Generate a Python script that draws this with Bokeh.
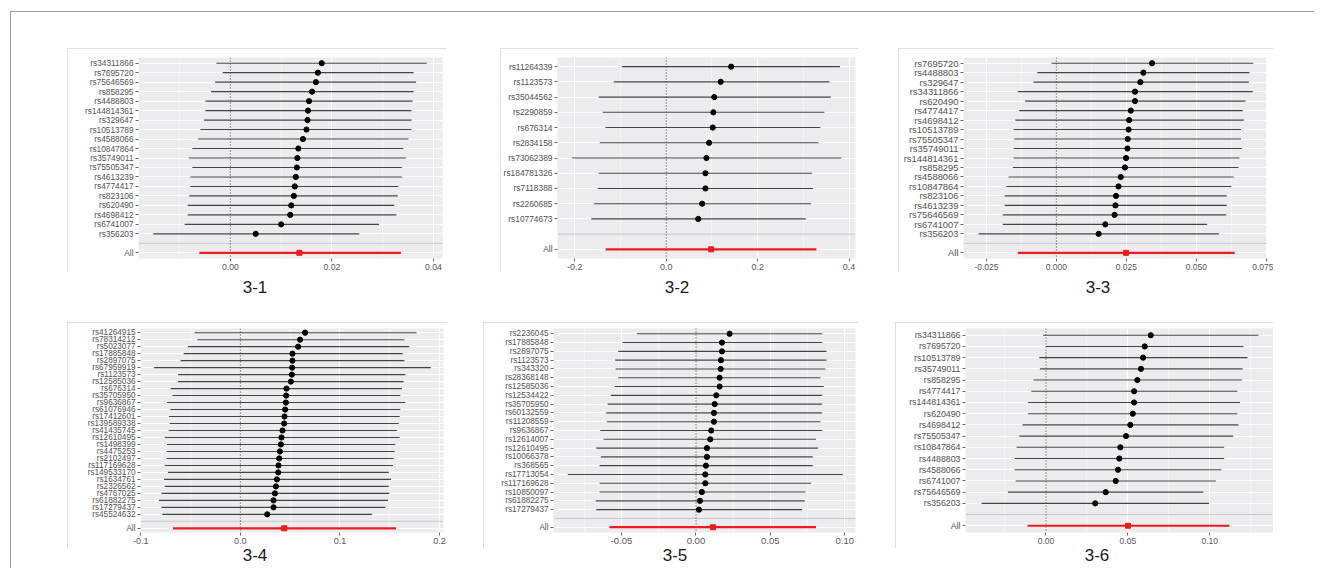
from bokeh.plotting import figure
from bokeh.models import Range1d, FixedTicker, Span, ColumnDataSource, Spacer, Div
from bokeh.layouts import row, column
from bokeh.embed import file_html
from bokeh.resources import INLINE

# ---------------- Panel 3-1 ----------------
snps_1 = ["rs34311866", "rs7695720", "rs75646569", "rs858295", "rs4488803", "rs144814361",
          "rs329647", "rs10513789", "rs4588066", "rs10847864", "rs35749011", "rs75505347",
          "rs4613239", "rs4774417", "rs823106", "rs620490", "rs4698412", "rs6741007", "rs356203"]
beta_1 = [0.0180, 0.01725, 0.01685, 0.0161, 0.0155, 0.0153, 0.0152, 0.0150, 0.0143, 0.0134,
          0.0132, 0.0131, 0.0129, 0.0127, 0.0125, 0.0120, 0.0118, 0.0100, 0.0050]
lower_1 = [-0.00275, -0.0015, -0.0030, -0.0038, -0.0049, -0.0049, -0.0052, -0.0059, -0.0064,
           -0.0075, -0.0082, -0.0075, -0.0079, -0.0079, -0.0081, -0.0084, -0.0084, -0.0090, -0.0152]
upper_1 = [0.0387, 0.0361, 0.0366, 0.0361, 0.0359, 0.0357, 0.0357, 0.0357, 0.0351, 0.0341,
           0.0346, 0.0338, 0.0338, 0.0331, 0.0330, 0.0323, 0.0327, 0.0293, 0.0254]
all_1 = [0.0136, -0.0061, 0.0336]
xticks_1 = [0.0, 0.02, 0.04]
xlabels_1 = ["0.00", "0.02", "0.04"]

# ---------------- Panel 3-2 ----------------
snps_2 = ["rs11264339", "rs1123573", "rs35044562", "rs2290859", "rs676314", "rs2834158",
          "rs73062389", "rs184781326", "rs7118388", "rs2260685", "rs10774673"]
beta_2 = [0.142, 0.119, 0.105, 0.103, 0.1016, 0.0937, 0.0879, 0.0857, 0.0857, 0.0785, 0.0699]
lower_2 = [-0.0965, -0.115, -0.148, -0.139, -0.133, -0.1455, -0.206, -0.148, -0.150, -0.1585, -0.164]
upper_2 = [0.380, 0.357, 0.360, 0.346, 0.337, 0.333, 0.383, 0.319, 0.321, 0.317, 0.305]
all_2 = [0.098, -0.1325, 0.3285]
xticks_2 = [-0.2, 0.0, 0.2, 0.4]
xlabels_2 = ["-0.2", "0.0", "0.2", "0.4"]

# ---------------- Panel 3-3 ----------------
snps_3 = ["rs7695720", "rs4488803", "rs329647", "rs34311866", "rs620490", "rs4774417",
          "rs4698412", "rs10513789", "rs75505347", "rs35749011", "rs144814361", "rs858295",
          "rs4588066", "rs10847864", "rs823106", "rs4613239", "rs75646569", "rs6741007", "rs356203"]
beta_3 = [0.0342, 0.0311, 0.0300, 0.0281, 0.0281, 0.0266, 0.0260, 0.0258, 0.0255, 0.0254,
          0.0249, 0.0245, 0.0230, 0.0222, 0.0213, 0.0211, 0.0208, 0.0175, 0.0151]
lower_3 = [-0.0017, -0.0068, -0.0082, -0.0138, -0.0112, -0.0133, -0.0147, -0.0153, -0.0151,
           -0.0153, -0.0153, -0.0156, -0.0171, -0.0179, -0.0185, -0.0185, -0.0192, -0.0192, -0.0278]
upper_3 = [0.0704, 0.0690, 0.0688, 0.0702, 0.0676, 0.0666, 0.0670, 0.0660, 0.0660, 0.0663,
           0.0654, 0.0651, 0.0634, 0.0625, 0.0609, 0.0609, 0.0607, 0.0539, 0.0581]
all_3 = [0.0249, -0.0138, 0.0637]
xticks_3 = [-0.025, 0.0, 0.025, 0.05, 0.075]
xlabels_3 = ["-0.025", "0.000", "0.025", "0.050", "0.075"]

# ---------------- Panel 3-4 ----------------
snps_4 = ["rs41264915", "rs78314212", "rs5023077", "rs17885848", "rs2897075", "rs67959919",
          "rs1123573", "rs12585036", "rs676314", "rs35705950", "rs9636867", "rs61076946",
          "rs17412601", "rs139589338", "rs41435745", "rs12610495", "rs1498399", "rs4475253",
          "rs2102497", "rs117169628", "rs149533170", "rs1634761", "rs2326562", "rs4767025",
          "rs61882275", "rs17279437", "rs45524632"]
beta_4 = [0.065, 0.060, 0.058, 0.0523, 0.0523, 0.052, 0.0517, 0.0507, 0.0463, 0.046, 0.0457,
          0.045, 0.0443, 0.044, 0.0423, 0.0413, 0.0407, 0.0397, 0.039, 0.0383, 0.038, 0.0367,
          0.0357, 0.0347, 0.0333, 0.0333, 0.027]
lower_4 = [-0.046, -0.0433, -0.0527, -0.057, -0.060, -0.0867, -0.0627, -0.0627, -0.070, -0.0683,
           -0.0737, -0.0703, -0.0717, -0.071, -0.072, -0.076, -0.0737, -0.0743, -0.0743, -0.076,
           -0.0727, -0.0767, -0.076, -0.0793, -0.0817, -0.0793, -0.0783]
upper_4 = [0.177, 0.1647, 0.1697, 0.163, 0.1647, 0.1913, 0.1657, 0.164, 0.1623, 0.1607, 0.1657,
           0.1607, 0.160, 0.159, 0.1573, 0.160, 0.1557, 0.155, 0.154, 0.1533, 0.149, 0.1513,
           0.149, 0.1497, 0.1483, 0.1457, 0.1323]
all_4 = [0.044, -0.0677, 0.1563]
xticks_4 = [-0.1, 0.0, 0.1, 0.2]
xlabels_4 = ["-0.1", "0.0", "0.1", "0.2"]

# ---------------- Panel 3-5 ----------------
snps_5 = ["rs2236045", "rs17885848", "rs2897075", "rs1123573", "rs343320", "rs28368148",
          "rs12585036", "rs12534422", "rs35705950", "rs60132559", "rs11208559", "rs9636867",
          "rs12614007", "rs12610495", "rs10066378", "rs368565", "rs17713054", "rs117169628",
          "rs10850097", "rs61882275", "rs17279437"]
beta_5 = [0.0226, 0.0175, 0.0175, 0.0168, 0.0166, 0.0159, 0.0159, 0.0137, 0.0126, 0.0121,
          0.0121, 0.0103, 0.0096, 0.0074, 0.0074, 0.0067, 0.0063, 0.0063, 0.0040, 0.0027, 0.0020]
lower_5 = [-0.0397, -0.0493, -0.0522, -0.0543, -0.054, -0.0522, -0.0547, -0.0572, -0.0594,
           -0.0603, -0.0599, -0.0643, -0.0621, -0.067, -0.0639, -0.0648, -0.0861, -0.0648,
           -0.0648, -0.0673, -0.067]
upper_5 = [0.0848, 0.0848, 0.0877, 0.0877, 0.087, 0.0836, 0.0859, 0.0848, 0.0848, 0.0848,
           0.0836, 0.0848, 0.0807, 0.0821, 0.0785, 0.0785, 0.0987, 0.0774, 0.0735, 0.0731, 0.0713]
all_5 = [0.0114, -0.0581, 0.0807]
xticks_5 = [-0.05, 0.0, 0.05, 0.10]
xlabels_5 = ["-0.05", "0.00", "0.05", "0.10"]

# ---------------- Panel 3-6 ----------------
snps_6 = ["rs34311866", "rs7695720", "rs10513789", "rs35749011", "rs858295", "rs4774417",
          "rs144814361", "rs620490", "rs4698412", "rs75505347", "rs10847864", "rs4488803",
          "rs4588066", "rs6741007", "rs75646569", "rs356203"]
beta_6 = [0.064, 0.0603, 0.0593, 0.058, 0.0558, 0.0538, 0.0538, 0.053, 0.0515, 0.0489,
          0.0454, 0.0448, 0.044, 0.0426, 0.0365, 0.0301]
lower_6 = [-0.0018, 0.0, -0.0041, -0.0037, -0.0077, -0.009, -0.011, -0.011, -0.0143, -0.0163,
           -0.0179, -0.0191, -0.0191, -0.0185, -0.0232, -0.0393]
upper_6 = [0.1297, 0.1206, 0.123, 0.120, 0.1196, 0.1169, 0.1185, 0.1169, 0.1175, 0.1143,
           0.1088, 0.1088, 0.1071, 0.1037, 0.0961, 0.0996]
all_6 = [0.0501, -0.0112, 0.112]
xticks_6 = [0.0, 0.05, 0.10]
xlabels_6 = ["0.00", "0.05", "0.10"]

captions = ["3-1", "3-2", "3-3", "3-4", "3-5", "3-6"]

FONT = "Liberation Sans"
FRAME = "#9b9b9b"


def make_panel(snps, beta, lower, upper, overall, xticks, xlabels, xminor, xlim,
               w, h, borders, ysize, xsize):
    n = len(snps)
    ys = [n + 1 - i for i in range(n)]
    p = figure(width=w, height=h, x_range=Range1d(*xlim), y_range=Range1d(-0.6, n + 1.6),
               output_backend="svg", toolbar_location=None,
               min_border_left=borders[0], min_border_right=borders[1],
               min_border_top=borders[2], min_border_bottom=borders[3])
    p.background_fill_color = "#ECECEE"
    p.border_fill_color = "white"
    p.outline_line_color = None
    p.styles = {"outline": "1px solid #d4d4d4", "outline-offset": "-1px"}

    # x axis
    p.xaxis.ticker = FixedTicker(ticks=xticks, minor_ticks=xminor)
    p.xaxis.major_label_overrides = {t: l for t, l in zip(xticks, xlabels)}
    p.xaxis.axis_line_color = None
    p.xaxis.major_tick_out = 3
    p.xaxis.major_tick_in = 0
    p.xaxis.major_tick_line_color = "#666666"
    p.xaxis.minor_tick_line_color = None
    p.xaxis.major_label_standoff = 1
    p.xaxis.major_label_text_font = FONT
    p.xaxis.major_label_text_font_size = xsize
    p.xaxis.major_label_text_color = "#555555"

    # y axis
    yt = [0] + ys
    p.yaxis.ticker = FixedTicker(ticks=yt)
    ov = {0: "All"}
    for s, y in zip(snps, ys):
        ov[y] = s
    p.yaxis.major_label_overrides = ov
    p.yaxis.axis_line_color = None
    p.yaxis.major_tick_out = 3
    p.yaxis.major_tick_in = 0
    p.yaxis.major_tick_line_color = "#666666"
    p.yaxis.minor_tick_line_color = None
    p.yaxis.major_label_standoff = 2
    p.yaxis.major_label_text_font = FONT
    p.yaxis.major_label_text_font_size = ysize
    p.yaxis.major_label_text_color = "#505050"

    # grids
    p.xgrid.grid_line_color = "white"
    p.xgrid.grid_line_width = 1
    p.xgrid.minor_grid_line_color = "white"
    p.xgrid.minor_grid_line_width = 0.5
    p.ygrid.grid_line_color = "white"
    p.ygrid.grid_line_width = 1

    p.add_layout(Span(location=1, dimension="width", line_color="#c6c6c6",
                      line_width=1, level="underlay"))
    p.add_layout(Span(location=0, dimension="height", line_color="#222222",
                      line_width=1, line_dash="1 2", level="underlay"))

    src = ColumnDataSource(dict(y=ys, b=beta, lo=lower, hi=upper))
    p.segment(x0="lo", y0="y", x1="hi", y1="y", line_color="#444444", line_width=1.1, source=src)
    p.scatter(x="b", y="y", size=5.2, color="black", source=src)

    asrc = ColumnDataSource(dict(y=[0], b=[overall[0]], lo=[overall[1]], hi=[overall[2]]))
    p.segment(x0="lo", y0="y", x1="hi", y1="y", line_color="#ee1c1c", line_width=2.2, source=asrc)
    p.scatter(x="b", y="y", size=5, marker="square", color="#ee1c1c", source=asrc)
    return p


p1 = make_panel(snps_1, beta_1, lower_1, upper_1, all_1, xticks_1, xlabels_1,
                [-0.01, 0.01, 0.03], (-0.0181, 0.0418), 380, 224, (71, 5, 7, 14), "8.3px", "8.7px")
p2 = make_panel(snps_2, beta_2, lower_2, upper_2, all_2, xticks_2, xlabels_2,
                [-0.1, 0.1, 0.3], (-0.238, 0.414), 358, 224, (53, 3, 9, 14), "8.4px", "9px")
p3 = make_panel(snps_3, beta_3, lower_3, upper_3, all_3, xticks_3, xlabels_3,
                [-0.0125, 0.0125, 0.0375, 0.0625], (-0.0332, 0.0751), 375, 224, (65, 7, 5, 14),
                "9.4px", "8.5px")
p4 = make_panel(snps_4, beta_4, lower_4, upper_4, all_4, xticks_4, xlabels_4,
                [-0.05, 0.05, 0.15], (-0.1003, 0.204), 380, 226, (73, 4, 6, 15), "8.2px", "9px")
p5 = make_panel(snps_5, beta_5, lower_5, upper_5, all_5, xticks_5, xlabels_5,
                [-0.075, -0.025, 0.025, 0.075], (-0.0957, 0.1072), 375, 226, (70, 3, 6, 15),
                "8.2px", "9.5px")
p6 = make_panel(snps_6, beta_6, lower_6, upper_6, all_6, xticks_6, xlabels_6,
                [-0.025, 0.025, 0.075, 0.125], (-0.0491, 0.1383), 378, 226, (70, 1, 6, 16),
                "8.8px", "8.5px")


def cap(text, pad, lh, h):
    html = ('<div style="width:60px;text-align:center;font-family:\'Liberation Sans\';'
            'font-size:17px;color:#1a1a1a;line-height:%dpx;padding-top:%dpx">%s</div>'
            % (lh, pad, text))
    return Div(text=html, width=60, height=h, margin=0)


def rule(w, h):
    html = ('<div style="display:block;width:%dpx;height:%dpx;background:%s;'
            'vertical-align:top"></div>' % (w, h, FRAME))
    return Div(text=html, width=w, height=h, margin=0,
               styles={"font-size": "0px", "line-height": "0px", "background-color": FRAME})


row1 = row(Spacer(width=56), p1, Spacer(width=53), p2, Spacer(width=40), p3, Spacer(width=49))
cap1 = row(Spacer(width=214), cap(captions[0], 6, 20, 50), Spacer(width=362),
           cap(captions[1], 6, 20, 50), Spacer(width=361), cap(captions[2], 6, 20, 50))
row2 = row(Spacer(width=56), p4, Spacer(width=36), p5, Spacer(width=37), p6)
cap2 = row(Spacer(width=214), cap(captions[3], 0, 16, 20), Spacer(width=360),
           cap(captions[4], 0, 16, 20), Spacer(width=362), cap(captions[5], 0, 16, 20))

inner = column(rule(1303, 1), Spacer(height=36), row1, cap1, row2, cap2)
root = column(Spacer(height=11), row(Spacer(width=10), rule(1, 557), inner))

with open("out.html", "w", encoding="utf-8") as f:
    f.write(file_html(root, INLINE))
